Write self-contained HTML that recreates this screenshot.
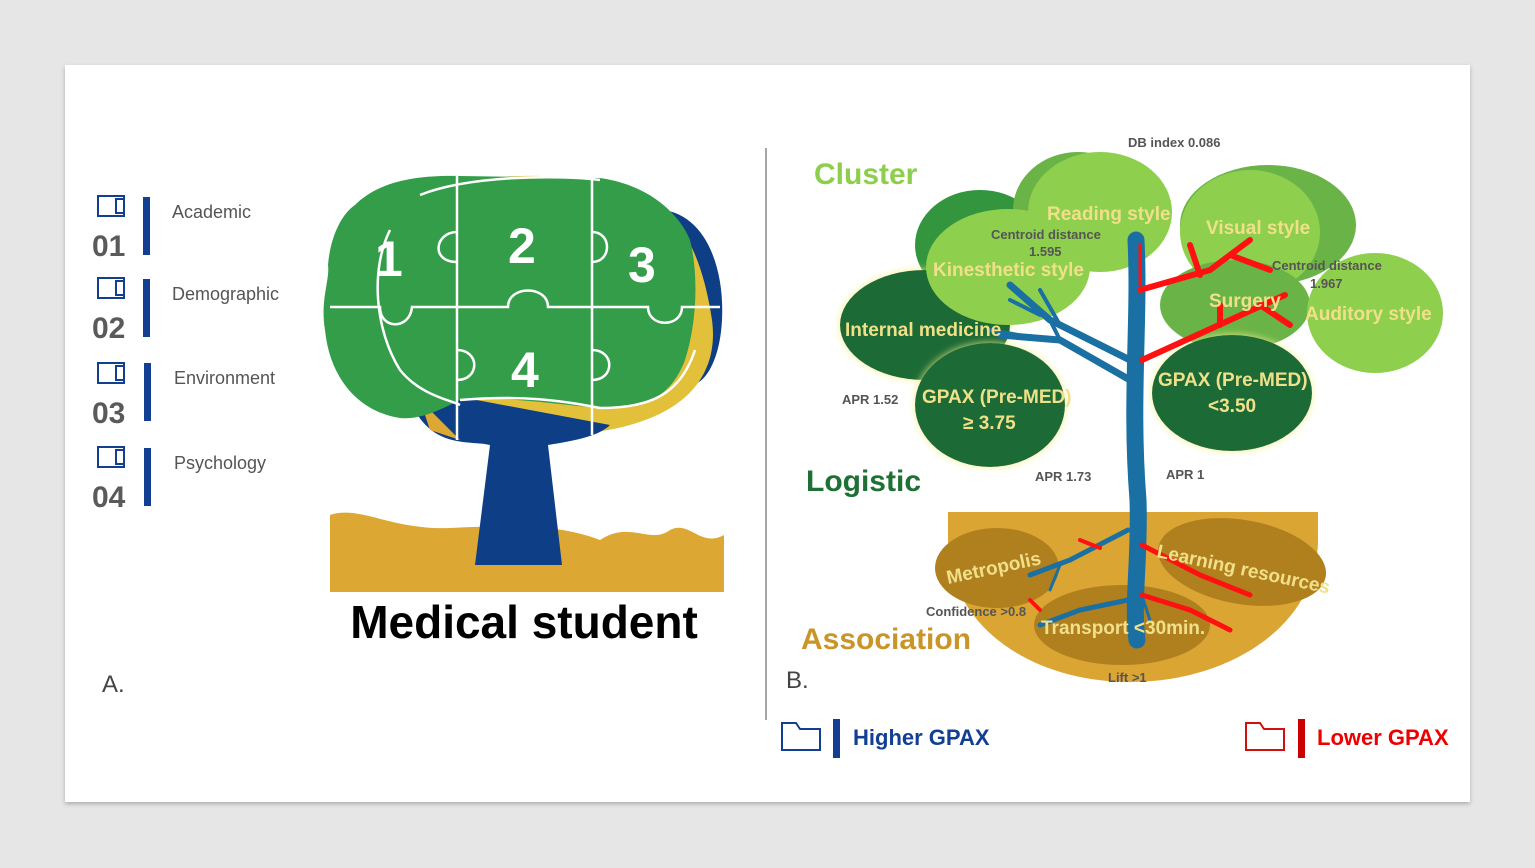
<!DOCTYPE html>
<html><head><meta charset="utf-8"><style>
html,body{margin:0;padding:0;background:#e6e6e6;width:1535px;height:868px;overflow:hidden}
svg{display:block}
text{font-family:"Liberation Sans",sans-serif}
</style></head><body>
<svg width="1535" height="868" viewBox="0 0 1535 868" xmlns="http://www.w3.org/2000/svg">
<defs>
<filter id="sh" x="-5%" y="-5%" width="110%" height="110%"><feDropShadow dx="0" dy="2" stdDeviation="2" flood-color="#000" flood-opacity="0.25"/></filter>
<filter id="glow" x="-20%" y="-20%" width="140%" height="140%"><feDropShadow dx="0" dy="0" stdDeviation="4" flood-color="#f4f08a" flood-opacity="0.9"/></filter>
</defs>
<rect x="0" y="0" width="1535" height="868" fill="#e6e6e6"/>
<rect x="6" y="6" width="1523" height="857" fill="#e6e6e6"/>
<rect x="65" y="65" width="1405" height="737" fill="#fff" filter="url(#sh)"/>

<!-- left list -->
<g fill="none" stroke="#123f92" stroke-width="2">
<rect x="98" y="196" width="26" height="20"/><rect x="116" y="199" width="8" height="14"/>
<rect x="98" y="278" width="26" height="20"/><rect x="116" y="281" width="8" height="14"/>
<rect x="98" y="363" width="26" height="20"/><rect x="116" y="366" width="8" height="14"/>
<rect x="98" y="447" width="26" height="20"/><rect x="116" y="450" width="8" height="14"/>
</g>
<g fill="#123f92">
<rect x="143" y="197" width="7" height="58"/><rect x="143" y="279" width="7" height="58"/>
<rect x="144" y="363" width="7" height="58"/><rect x="144" y="448" width="7" height="58"/>
</g>
<g fill="#5a5a5a" font-size="30" font-weight="bold">
<text x="92" y="256">01</text><text x="92" y="338">02</text><text x="92" y="423">03</text><text x="92" y="507">04</text>
</g>
<g fill="#555" font-size="18">
<text x="172" y="218">Academic</text><text x="172" y="300">Demographic</text>
<text x="174" y="384">Environment</text><text x="174" y="469">Psychology</text>
</g>

<!-- left tree -->
<path d="M330,515 C360,505 390,530 450,528 C520,525 560,525 600,540 C630,520 650,545 670,530 C690,520 700,548 724,535 V592 H330 Z" fill="#dca733"/>
<path d="M650,210 C700,205 725,260 722,320 C720,360 705,385 690,385 L660,300 Z" fill="#0d3e86"/>
<path d="M420,195 C470,170 560,175 600,180 C670,190 700,240 712,320 C720,380 680,430 560,435 C480,440 430,420 420,400 Z" fill="#e3c039"/>
<path d="M410,400 C430,450 470,440 490,445 L475,565 H562 L548,445 C580,440 600,435 610,425 L450,395 Z" fill="#0d3e86"/>
<path d="M420,400 L460,440 L430,430 Z" fill="#dca733"/>
<path d="M355,205 C380,180 420,175 460,176 L600,178 C650,185 680,215 690,240 C700,280 695,330 685,360 C670,400 640,410 600,408 C560,405 500,395 460,400 C440,410 420,420 400,418 C360,412 330,380 325,330 C320,300 330,280 328,265 C330,240 340,215 355,205 Z" fill="#349d4a"/>
<g stroke="#fff" stroke-width="2.5" fill="none">
<path d="M457,176 V440"/><path d="M592,176 V435"/>
<path d="M330,307 H380 C380,330 410,330 412,307 H508 C508,285 548,285 548,307 H648 C648,328 682,328 682,307 H720"/>
<path d="M457,232 C435,232 430,262 457,262"/><path d="M592,232 C612,232 612,262 592,262"/>
<path d="M457,350 C480,350 480,380 457,380"/><path d="M592,350 C615,350 615,380 592,380"/>
<path d="M420,195 C470,175 560,175 600,180"/>
<path d="M390,230 C370,270 375,330 400,370 C420,395 450,400 460,405"/>
<path d="M460,400 C520,395 560,400 600,408 C650,408 680,395 695,350"/>
</g>
<g fill="#fff" font-size="50" font-weight="bold">
<text x="375" y="276">1</text><text x="508" y="263">2</text><text x="628" y="282">3</text><text x="511" y="387">4</text>
</g>
<text x="524" y="638" text-anchor="middle" font-size="46" font-weight="bold" fill="#000">Medical student</text>
<text x="102" y="692" font-size="24" fill="#444" font-family="Liberation Serif,serif">A.</text>

<line x1="766" y1="148" x2="766" y2="720" stroke="#888" stroke-width="1.5"/>
<text x="786" y="688" font-size="24" fill="#444" font-family="Liberation Serif,serif">B.</text>

<!-- right tree -->
<text x="814" y="184" font-size="30" font-weight="bold" fill="#8dcf4c">Cluster</text>
<text x="806" y="491" font-size="30" font-weight="bold" fill="#1f7034">Logistic</text>
<text x="801" y="649" font-size="30" font-weight="bold" fill="#c99528">Association</text>
<text x="1128" y="147" font-size="13" font-weight="bold" fill="#555">DB index 0.086</text>

<path d="M948,512 H1318 V540 C1318,625 1230,682 1130,682 C1030,682 948,625 948,540 Z" fill="#dba534"/>
<ellipse cx="997" cy="568" rx="62" ry="40" fill="#b0801f"/>
<ellipse cx="1242" cy="562" rx="85" ry="42" fill="#b0801f" transform="rotate(10 1242 562)"/>
<ellipse cx="1122" cy="625" rx="88" ry="40" fill="#b0801f"/>

<ellipse cx="980" cy="245" rx="65" ry="55" fill="#33963f"/>
<ellipse cx="1078" cy="210" rx="65" ry="58" fill="#6ab347"/>
<ellipse cx="1268" cy="225" rx="88" ry="60" fill="#6ab347"/>
<ellipse cx="925" cy="325" rx="85" ry="55" fill="#1f6b34" filter="url(#glow)"/>
<ellipse cx="1008" cy="267" rx="82" ry="58" fill="#8ecf4e"/>
<ellipse cx="1100" cy="212" rx="72" ry="60" fill="#8ecf4e"/>
<ellipse cx="1250" cy="232" rx="70" ry="62" fill="#8ecf4e"/>
<ellipse cx="1235" cy="305" rx="75" ry="45" fill="#6ab347"/>
<ellipse cx="1375" cy="313" rx="68" ry="60" fill="#8ecf4e"/>
<ellipse cx="990" cy="405" rx="75" ry="62" fill="#1f6b34" filter="url(#glow)"/>
<ellipse cx="1232" cy="393" rx="80" ry="58" fill="#1f6b34" filter="url(#glow)"/>

<g stroke="#1a6fa3" fill="none" stroke-linecap="round">
<path d="M1136,240 C1140,320 1130,400 1138,500 C1140,560 1132,600 1137,640" stroke-width="17"/>
<path d="M1130,360 L1050,320 L1010,285" stroke-width="7"/>
<path d="M1060,325 L1040,290 M1040,315 L1010,300" stroke-width="4"/>
<path d="M1130,380 L1060,340 L1000,335" stroke-width="7"/>
<path d="M1060,340 L1050,320 M1035,338 L990,330" stroke-width="4"/>
<path d="M1128,530 L1070,560 L1030,575 M1128,600 L1080,610 L1040,625" stroke-width="5"/>
<path d="M1140,590 L1150,620 M1060,565 L1050,590" stroke-width="3"/>
</g>
<g stroke="#f11" fill="none" stroke-linecap="round">
<path d="M1140,290 L1210,270 L1250,240 M1200,275 L1190,245 M1230,255 L1270,270" stroke-width="6"/>
<path d="M1142,360 L1230,320 L1285,295 M1220,325 L1220,305 M1260,305 L1290,325" stroke-width="6"/>
<path d="M1140,285 V245" stroke-width="3"/>
<path d="M1142,545 L1200,575 L1250,595 M1142,595 L1190,610 L1230,630" stroke-width="5"/>
<path d="M1100,548 L1080,540 M1040,610 L1030,600" stroke-width="4"/>
</g>

<g font-weight="bold" fill="#f1e08a" font-size="19">
<text x="1047" y="220">Reading style</text>
<text x="1206" y="234">Visual style</text>
<text x="933" y="276">Kinesthetic style</text>
<text x="1209" y="307">Surgery</text>
<text x="1305" y="320">Auditory style</text>
<text x="845" y="336">Internal medicine</text>
<text x="922" y="403">GPAX (Pre-MED)</text>
<text x="963" y="429">≥ 3.75</text>
<text x="1158" y="386">GPAX (Pre-MED)</text>
<text x="1208" y="412">&lt;3.50</text>
<text x="948" y="584" transform="rotate(-12 948 584)">Metropolis</text>
<text x="1156" y="557" transform="rotate(12 1156 557)">Learning resources</text>
<text x="1041" y="634">Transport &lt;30min.</text>
</g>
<g font-weight="bold" fill="#555" font-size="13">
<text x="991" y="239">Centroid distance</text><text x="1029" y="256">1.595</text>
<text x="1272" y="270">Centroid distance</text><text x="1310" y="288">1.967</text>
<text x="842" y="404">APR 1.52</text><text x="1035" y="481">APR 1.73</text><text x="1166" y="479">APR 1</text>
<text x="926" y="616">Confidence &gt;0.8</text><text x="1108" y="682">Lift &gt;1</text>
</g>

<!-- legend -->
<path d="M782,723 H796 L800,729 H820 V750 H782 Z" fill="none" stroke="#123f92" stroke-width="2"/>
<rect x="833" y="719" width="7" height="39" fill="#123f92"/>
<text x="853" y="745" font-size="22" font-weight="bold" fill="#123f92">Higher GPAX</text>
<path d="M1246,723 H1260 L1264,729 H1284 V750 H1246 Z" fill="none" stroke="#d01010" stroke-width="2"/>
<rect x="1298" y="719" width="7" height="39" fill="#c00"/>
<text x="1317" y="745" font-size="22" font-weight="bold" fill="#e00">Lower GPAX</text>
</svg>
</body></html>
